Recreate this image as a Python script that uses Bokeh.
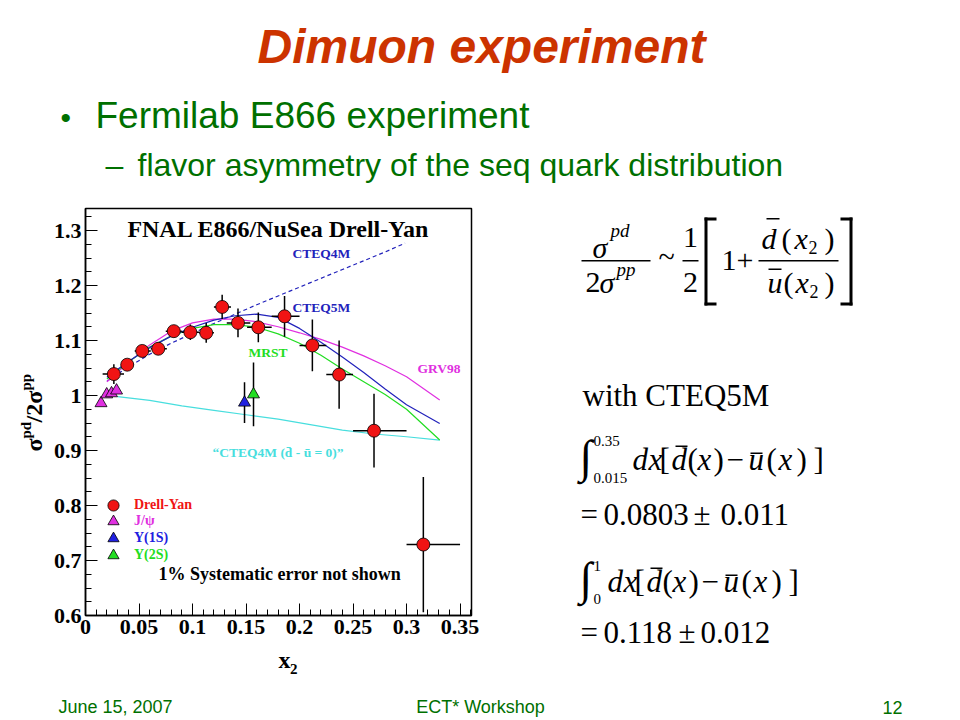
import math
from bokeh.plotting import figure
from bokeh.layouts import column, row
from bokeh.models import (Range1d, SingleIntervalTicker, CustomJSTickFormatter, Label,
                          BoxAnnotation, Legend, LegendItem)
from bokeh.embed import file_html
from bokeh.resources import INLINE

# ---------------- data ----------------
dy_x = [0.0265, 0.039, 0.053, 0.068, 0.0825, 0.098, 0.1128, 0.1277, 0.1425, 0.1615, 0.186, 0.212, 0.237, 0.2696, 0.3157]
dy_y = [1.039, 1.056, 1.081, 1.085, 1.117, 1.115, 1.114, 1.161, 1.132, 1.124, 1.144, 1.091, 1.038, 0.936, 0.729]
dy_err = [0.018, 0.010, 0.010, 0.011, 0.011, 0.014, 0.018, 0.022, 0.026, 0.027, 0.037, 0.047, 0.062, 0.067, 0.123]
dy_xlo = [0.016, 0.033, 0.046, 0.061, 0.075, 0.090, 0.106, 0.120, 0.132, 0.151, 0.174, 0.200, 0.225, 0.250, 0.300]
dy_xhi = [0.036, 0.045, 0.061, 0.076, 0.090, 0.106, 0.120, 0.136, 0.154, 0.174, 0.200, 0.225, 0.250, 0.300, 0.350]

jpsi_x = [0.0145, 0.0198, 0.0243, 0.029]
jpsi_y = [0.986, 1.002, 1.004, 1.009]

ups1_x = [0.1486]
ups1_y = [0.987]
ups1_err = [0.037]
ups2_x = [0.157]
ups2_y = [1.002]
ups2_err = [0.058]

curve_x = [0.02, 0.04, 0.06, 0.08, 0.10, 0.12, 0.14, 0.16, 0.18, 0.20, 0.22, 0.24, 0.26, 0.28, 0.30, 0.331]
cteq5m_y = [1.033, 1.062, 1.087, 1.108, 1.124, 1.137, 1.145, 1.148, 1.142, 1.122, 1.097, 1.070, 1.042, 1.012, 0.983, 0.949]
grv98_y = [1.025, 1.060, 1.092, 1.117, 1.132, 1.139, 1.139, 1.134, 1.125, 1.114, 1.102, 1.088, 1.072, 1.054, 1.034, 0.992]
mrst_y = [1.030, 1.061, 1.088, 1.108, 1.122, 1.129, 1.129, 1.124, 1.112, 1.095, 1.073, 1.048, 1.025, 1.002, 0.975, 0.919]
cteq4m_x = [0.02, 0.04, 0.06, 0.08, 0.10, 0.12, 0.14, 0.16, 0.18, 0.20, 0.22, 0.24, 0.26, 0.28, 0.2986]
cteq4m_y = [1.026, 1.052, 1.075, 1.095, 1.113, 1.131, 1.148, 1.165, 1.181, 1.197, 1.213, 1.229, 1.245, 1.261, 1.277]
sym_x = [0.03, 0.06, 0.09, 0.12, 0.15, 0.18, 0.21, 0.24, 0.27, 0.30, 0.331]
sym_y = [0.998, 0.991, 0.981, 0.973, 0.965, 0.957, 0.947, 0.937, 0.930, 0.925, 0.919]

x_tick_step = 0.05
y_tick_step = 0.1

# ---------------- page geometry (pixels from the top-left of the page) ----------------
PW = 958
TOP_H = 200          # title / bullet band
MID_H = 495          # chart + formula band
FOOT_H = 23          # footer band
YLAB_W = 50          # strip holding the y-axis title
CH_W = 440           # chart figure width
CH_H = 447           # chart figure height
FL, FR, FT, FB = 85, 471, 208, 615   # plot frame on the page
XMIN, XMAX = 0.0, 0.3607
YMIN, YMAX = 0.6, 1.34
K = 0.35             # baseline correction (fraction of the font size)


def X(px):
    return XMIN + (px - FL) / (FR - FL) * (XMAX - XMIN)


def Y(py):
    return YMAX - (py - FT) / (FB - FT) * (YMAX - YMIN)


def text_fig(x0, x1, y0, y1):
    f = figure(width=x1 - x0, height=y1 - y0, x_range=Range1d(x0, x1), y_range=Range1d(y1, y0),
               output_backend="svg", toolbar_location=None, x_axis_type=None, y_axis_type=None,
               min_border=0)
    f.xgrid.visible = False
    f.ygrid.visible = False
    f.outline_line_color = None
    f.background_fill_color = "white"
    f.border_fill_color = "white"
    return f


def put(f, text, px, py, size, color="black", font="Liberation Serif", style="normal",
        align="left", rotated=False):
    if rotated:
        x, y, ang = px - K * size, py, math.pi / 2
    else:
        x, y, ang = px, py - K * size, 0.0
    f.add_layout(Label(x=x, y=y, text=text, text_font=font, text_font_style=style,
                       text_font_size=f"{size}px", text_color=color, text_align=align,
                       text_baseline="alphabetic", angle=ang))


def bar(f, x0, x1, y0, y1):
    f.add_layout(BoxAnnotation(left=x0, right=x1, top=y0, bottom=y1,
                               fill_color="black", fill_alpha=1.0, line_alpha=0))


# ---------------- chart figure ----------------
cx0, cy0 = YLAB_W, TOP_H
p = figure(width=CH_W, height=CH_H, x_range=Range1d(XMIN, XMAX), y_range=Range1d(YMIN, YMAX),
           output_backend="svg", toolbar_location=None,
           min_border_left=FL - cx0, min_border_right=cx0 + CH_W - FR,
           min_border_top=FT - cy0, min_border_bottom=cy0 + CH_H - FB)
p.xgrid.visible = False
p.ygrid.visible = False
p.background_fill_color = "white"
p.border_fill_color = "white"
p.outline_line_color = "black"
p.outline_line_width = 1.5

p.xaxis.ticker = SingleIntervalTicker(interval=x_tick_step, num_minor_ticks=5)
p.yaxis.ticker = SingleIntervalTicker(interval=y_tick_step, num_minor_ticks=4)
fmt = "return tick.toFixed(2).replace(/0+$/, '').replace(/\\.$/, '');"
p.xaxis.formatter = CustomJSTickFormatter(code=fmt)
p.yaxis.formatter = CustomJSTickFormatter(code=fmt)
for ax in (p.xaxis, p.yaxis):
    ax.axis_line_color = "black"
    ax.axis_line_width = 1.5
    ax.major_tick_in = 12
    ax.major_tick_out = 0
    ax.minor_tick_in = 6
    ax.minor_tick_out = 0
    ax.major_tick_line_color = "black"
    ax.minor_tick_line_color = "black"
    ax.major_label_text_font = "Liberation Serif"
    ax.major_label_text_font_style = "bold"
    ax.major_label_text_font_size = "22px"
    ax.major_label_text_color = "black"
    ax.major_label_standoff = 4

BLUE = "#2222bb"
MAG = "#e030e0"
GRN = "#22dd22"
CYAN = "#48dede"
RED = "#f01414"

p.line(sym_x, sym_y, line_color=CYAN, line_width=1.2)
p.line(cteq4m_x, cteq4m_y, line_color=BLUE, line_width=1.2, line_dash="4 3")
p.line(curve_x, grv98_y, line_color=MAG, line_width=1.2)
p.line(curve_x, mrst_y, line_color=GRN, line_width=1.2)
p.line(curve_x, cteq5m_y, line_color=BLUE, line_width=1.2)

p.segment(x0=dy_x, y0=[y - e for y, e in zip(dy_y, dy_err)], x1=dy_x,
          y1=[y + e for y, e in zip(dy_y, dy_err)], line_color="black", line_width=1.5)
p.segment(x0=dy_xlo, y0=dy_y, x1=dy_xhi, y1=dy_y, line_color="black", line_width=1.5)
p.segment(x0=ups1_x, y0=[y - e for y, e in zip(ups1_y, ups1_err)], x1=ups1_x,
          y1=[y + e for y, e in zip(ups1_y, ups1_err)], line_color="black", line_width=1.5)
p.segment(x0=ups2_x, y0=[y - e for y, e in zip(ups2_y, ups2_err)], x1=ups2_x,
          y1=[y + e for y, e in zip(ups2_y, ups2_err)], line_color="black", line_width=1.5)

r_jpsi = p.scatter(jpsi_x, jpsi_y, marker="triangle", size=12, fill_color=MAG, line_color="black", line_width=0.8)
r_u1 = p.scatter(ups1_x, ups1_y, marker="triangle", size=12, fill_color="#2020e0", line_color="black", line_width=0.8)
r_u2 = p.scatter(ups2_x, ups2_y, marker="triangle", size=12, fill_color="#22dd22", line_color="black", line_width=0.8)
r_dy = p.scatter(dy_x, dy_y, marker="circle", size=13, fill_color=RED, line_color="black", line_width=0.8)

for rend, lab, col, vy in [(r_dy, "Drell-Yan", RED, 96), (r_jpsi, "J/\u03c8", MAG, 80),
                           (r_u1, "\u03a5(1S)", "#2020e0", 63), (r_u2, "\u03a5(2S)", "#22dd22", 46)]:
    lg = Legend(items=[LegendItem(label=lab, renderers=[rend])], location=(14, vy),
                background_fill_alpha=0, border_line_alpha=0, padding=0, margin=0, spacing=0,
                glyph_width=28, glyph_height=28, label_standoff=7, label_height=28,
                label_text_font="Liberation Serif", label_text_font_style="bold",
                label_text_font_size="14px", label_text_color=col)
    p.add_layout(lg)


def cput(text, px, py, size, color="black", style="bold", align="left"):
    p.add_layout(Label(x=X(px), y=Y(py - K * size), text=text, text_font="Liberation Serif",
                       text_font_style=style, text_font_size=f"{size}px", text_color=color,
                       text_align=align, text_baseline="alphabetic"))


cput("FNAL E866/NuSea Drell-Yan", 278, 237, 24, align="center")
cput("CTEQ4M", 292, 258, 13.5, color=BLUE)
cput("CTEQ5M", 292, 312, 13.5, color=BLUE)
cput("MRST", 248, 357, 13.5, color=GRN)
cput("GRV98", 417, 373, 13.5, color=MAG)
cput("\u201cCTEQ4M (d\u0304 - \u016b = 0)\u201d", 212, 457, 13.5, color=CYAN)
cput("1% Systematic error not shown", 158, 580, 18)

# ---------------- y-axis title strip ----------------
ylab = text_fig(0, YLAB_W, TOP_H, TOP_H + MID_H)
put(ylab, "\u03c3", 42, 451, 24, style="bold", rotated=True)
put(ylab, "pd", 31, 438, 15, style="bold", rotated=True)
put(ylab, "/2\u03c3", 42, 422, 24, style="bold", rotated=True)
put(ylab, "pp", 31, 390, 15, style="bold", rotated=True)

# ---------------- x-axis title strip ----------------
xlab = text_fig(YLAB_W, YLAB_W + CH_W, TOP_H + CH_H, TOP_H + MID_H)
put(xlab, "x", 270, 668, 24, style="bold")
put(xlab, "2", 283, 674, 15, style="bold")

# ---------------- title band ----------------
SG = "#007000"
top = text_fig(0, PW, 0, TOP_H)
put(top, "Dimuon experiment", 481, 63, 48, color="#cc3300", font="Liberation Sans", style="bold italic", align="center")
put(top, "\u2022", 60, 127, 30, color=SG, font="Liberation Sans")
put(top, "Fermilab E866 experiment", 95, 128, 37, color=SG, font="Liberation Sans")
put(top, "\u2013", 105, 176, 32, color=SG, font="Liberation Sans")
put(top, "flavor asymmetry of the seq quark distribution", 137, 176, 32, color=SG, font="Liberation Sans")

# ---------------- footer band ----------------
fy0 = TOP_H + MID_H
foot = text_fig(0, PW, fy0, fy0 + FOOT_H)
put(foot, "June 15, 2007", 58, 713, 18, color=SG, font="Liberation Sans")
put(foot, "ECT* Workshop", 480, 713, 18, color=SG, font="Liberation Sans", align="center")
put(foot, "12", 902, 713, 18, color=SG, font="Liberation Sans", align="right")

# ---------------- formula panel ----------------
fx0 = YLAB_W + CH_W
fm = text_fig(fx0, PW, TOP_H, TOP_H + MID_H)
put(fm, "\u03c3", 592, 257, 30, style="italic")
put(fm, "pd", 610, 237, 19, style="italic")
bar(fm, 581, 650, 259.5, 261)
put(fm, "2", 585, 292, 30)
put(fm, "\u03c3", 599, 292, 30, style="italic")
put(fm, "pp", 616, 276, 19, style="italic")
put(fm, "~", 666, 266, 30, align="center")
put(fm, "1", 690, 247, 30, align="center")
bar(fm, 682, 698, 259.5, 261)
put(fm, "2", 690, 292, 30, align="center")
bar(fm, 704, 707, 217, 305)
bar(fm, 704, 716, 217, 220)
bar(fm, 704, 716, 302, 305)
put(fm, "1", 721, 270, 30)
put(fm, "+", 736, 270, 30)
put(fm, "d", 761, 248, 30, style="italic")
bar(fm, 766, 779, 217.5, 219)
put(fm, "(", 781, 248, 30)
put(fm, "x", 794, 248, 30, style="italic")
put(fm, "2", 808, 253, 18)
put(fm, ")", 824, 248, 30)
bar(fm, 758, 838, 259.5, 261)
put(fm, "u", 767, 292, 30, style="italic")
bar(fm, 768, 781, 268, 269.5)
put(fm, "(", 783, 292, 30)
put(fm, "x", 795, 292, 30, style="italic")
put(fm, "2", 809, 297, 18)
put(fm, ")", 824, 292, 30)
bar(fm, 849, 852, 217, 305)
bar(fm, 840, 852, 217, 220)
bar(fm, 840, 852, 302, 305)

put(fm, "with CTEQ5M", 582, 406, 31)


def integral_row(dx, base, ylim_top, ylim_bot, up, lo):
    put(fm, "\u222b", 579, base + 2, 46)
    put(fm, up, 593, ylim_top, 15)
    put(fm, lo, 593, ylim_bot, 15)
    runs = [("d", 632, "italic"), ("x", 648, "italic"), ("[", 659, "normal"), ("d", 671, "italic"),
            ("(", 687, "normal"), ("x", 697, "italic"), (")", 713, "normal"), ("\u2212", 726, "normal"),
            ("u", 748, "italic"), ("(", 766, "normal"), ("x", 778, "italic"),
            (")", 796, "normal"), ("]", 813, "normal")]
    for s, x0, st in runs:
        put(fm, s, x0 + dx, base, 31, style=st)
    bar(fm, 675 + dx, 687 + dx, base - 25, base - 23.5)
    bar(fm, 750 + dx, 762 + dx, base - 18, base - 16.5)


integral_row(0, 470, 446, 483, "0.35", "0.015")
put(fm, "=", 580, 525, 31)
put(fm, "0.0803", 603, 525, 31)
put(fm, "\u00b1", 693, 525, 31)
put(fm, "0.011", 720, 525, 31)
integral_row(-25, 592, 571, 604, "1", "0")
put(fm, "=", 580, 643, 31)
put(fm, "0.118", 603, 643, 31)
put(fm, "\u00b1", 678, 643, 31)
put(fm, "0.012", 700, 643, 31)

page = column(top, row(ylab, column(p, xlab), fm), foot)
open("out.html", "w").write(file_html(page, INLINE))
